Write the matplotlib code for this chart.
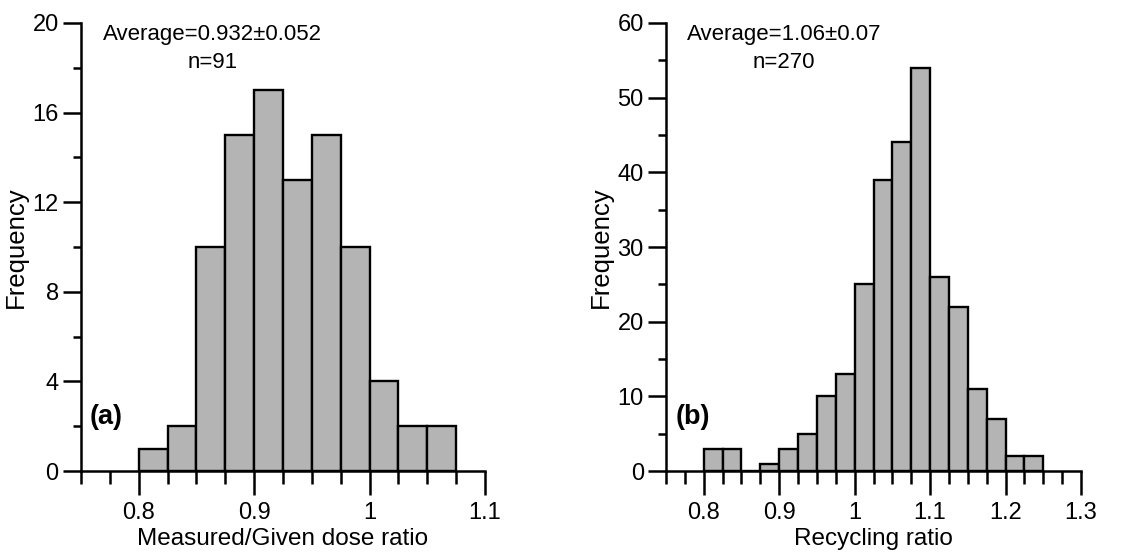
import matplotlib.pyplot as plt
plt.switch_backend('agg')

import numpy as np
from matplotlib.ticker import MultipleLocator, FixedLocator

plt.rcParams['font.family'] = ['Liberation Sans', 'DejaVu Sans']

# bin edges (left) and counts, bin width 0.025
bin_width = 0.025
dose_edges = [0.800, 0.825, 0.850, 0.875, 0.900, 0.925, 0.950, 0.975,
              1.000, 1.025, 1.050]
dose_counts = [1, 2, 10, 15, 17, 13, 15, 10, 4, 2, 2]

recycle_edges = [0.800, 0.825, 0.850, 0.875, 0.900, 0.925, 0.950, 0.975,
                 1.000, 1.025, 1.050, 1.075, 1.100, 1.125, 1.150, 1.175,
                 1.200, 1.225]
recycle_counts = [3, 3, 0, 1, 3, 5, 10, 13, 25, 39, 44, 54, 26, 22, 11, 7,
                  2, 2]

dose_xticks = [0.8, 0.9, 1.0, 1.1]
dose_xlabels = ['0.8', '0.9', '1', '1.1']
recycle_xticks = [0.8, 0.9, 1.0, 1.1, 1.2, 1.3]
recycle_xlabels = ['0.8', '0.9', '1', '1.1', '1.2', '1.3']

fig = plt.figure(figsize=(11.42, 5.54), dpi=100)
ax1 = fig.add_axes([0.0709, 0.1498, 0.3538, 0.8087])
ax2 = fig.add_axes([0.5832, 0.1498, 0.3634, 0.8087])

panels = [
    (ax1, dose_edges, dose_counts, (0.75, 1.1), (0, 20), 4, 2,
     dose_xticks, dose_xlabels, 'Measured/Given dose ratio',
     'Average=0.932\u00b10.052', 'n=91', 0.864, '(a)'),
    (ax2, recycle_edges, recycle_counts, (0.75, 1.3), (0, 60), 10, 5,
     recycle_xticks, recycle_xlabels, 'Recycling ratio',
     'Average=1.06\u00b10.07', 'n=270', 0.906, '(b)'),
]

for (ax, edges, counts, xlim, ylim, ymaj, ymin, xticks, xlabels, xlabel,
     avg_text, n_text, note_x, tag) in panels:
    ax.bar(edges, counts, width=bin_width, align='edge', color='#b4b4b4',
           edgecolor='black', linewidth=1.7, zorder=2)

    ax.set_xlim(*xlim)
    ax.set_ylim(*ylim)
    for side in ('top', 'right'):
        ax.spines[side].set_visible(False)
    for side in ('left', 'bottom'):
        ax.spines[side].set_linewidth(1.8)
        ax.spines[side].set_zorder(3)

    ax.xaxis.set_major_locator(FixedLocator(xticks))
    ax.set_xticklabels(xlabels)
    ax.xaxis.set_minor_locator(MultipleLocator(bin_width))
    ax.yaxis.set_major_locator(MultipleLocator(ymaj))
    ax.yaxis.set_minor_locator(MultipleLocator(ymin))

    ax.tick_params(axis='both', which='both', direction='out', width=1.8,
                   labelsize=17)
    ax.tick_params(axis='x', which='major', length=17, pad=5)
    ax.tick_params(axis='x', which='minor', length=9)
    ax.tick_params(axis='y', which='major', length=13, pad=3)
    ax.tick_params(axis='y', which='minor', length=6)

    ax.set_xlabel(xlabel, fontsize=17.5, labelpad=3)
    ax.set_ylabel('Frequency', fontsize=18.5, labelpad=3)

    ax.text(note_x, 0.975, avg_text, transform=ax.get_xaxis_transform(),
            ha='center', va='center', fontsize=16)
    ax.text(note_x, 0.912, n_text, transform=ax.get_xaxis_transform(),
            ha='center', va='center', fontsize=16)
    ax.text(0.022, 0.12, tag, transform=ax.transAxes, ha='left',
            va='center', fontsize=19.5, fontweight='bold')

fig.savefig('out.png', dpi=100)
